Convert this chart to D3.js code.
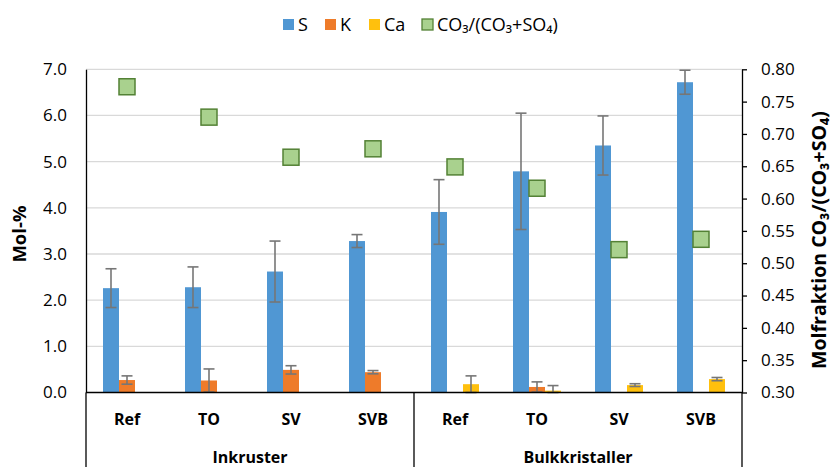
<!DOCTYPE html>
<html>
<head>
<meta charset="utf-8">
<script src="https://cdn.jsdelivr.net/npm/d3@7"></script>
<style>
  html, body { margin: 0; padding: 0; background: #fff; }
  svg { display: block; }
  text { font-family: "Open Sans", Lato, "DejaVu Sans", sans-serif; fill: #000; }
</style>
</head>
<body>
<svg id="chart" width="832" height="467"></svg>
<script>
// Sample groups and sub-categories
const groups = ["Inkruster", "Bulkkristaller"];
const subCategories = ["Ref", "TO", "SV", "SVB"];

// Mol-% values per sample (Inkruster Ref..SVB, then Bulkkristaller Ref..SVB)
const sValues  = [2.26, 2.28, 2.62, 3.28, 3.91, 4.79, 5.35, 6.72];
const sErrors  = [0.42, 0.44, 0.66, 0.14, 0.70, 1.26, 0.64, 0.26];
const kValues  = [0.27, 0.26, 0.49, 0.44, null, 0.12, null, null];
const kErrors  = [0.09, 0.25, 0.09, 0.035, null, 0.11, null, null];
const caValues = [null, null, null, null, 0.18, 0.04, 0.16, 0.29];
const caErrors = [null, null, null, null, 0.18, 0.11, 0.03, 0.035];

// Mole fraction CO3/(CO3+SO4), right axis
const ratioValues = [0.773, 0.726, 0.664, 0.677, 0.649, 0.616, 0.521, 0.537];

// Axis ticks
const leftTicks = [0, 1, 2, 3, 4, 5, 6, 7];
const rightTicks = [0.30, 0.35, 0.40, 0.45, 0.50, 0.55, 0.60, 0.65, 0.70, 0.75, 0.80];

const seriesNames = ["S", "K", "Ca"];
const seriesColors = { S: "#5097d3", K: "#ee7b2a", Ca: "#ffc00d" };
const ratioLabel = "CO\u2083/(CO\u2083+SO\u2084)";

const svg = d3.select("#chart");
const plot = { left: 86, right: 742, top: 69.3, bottom: 392.5 };

// Flat list of sample keys
const keys = [];
groups.forEach(g => subCategories.forEach(c => keys.push(g + "|" + c)));

const x0 = d3.scaleBand().domain(keys).range([plot.left, plot.right]).paddingInner(0).paddingOuter(0);
const x1 = d3.scaleBand().domain(seriesNames).range([0, x0.bandwidth()]).paddingInner(0).paddingOuter(1.0625);
const yL = d3.scaleLinear().domain([0, 7]).range([plot.bottom, plot.top]);
const yR = d3.scaleLinear().domain([0.30, 0.80]).range([plot.bottom, plot.top]);

// Gridlines
svg.append("g")
  .selectAll("line")
  .data(leftTicks.filter(t => t > 0))
  .join("line")
  .attr("x1", plot.left).attr("x2", plot.right)
  .attr("y1", d => yL(d)).attr("y2", d => yL(d))
  .attr("stroke", "#d9d9d9").attr("stroke-width", 1.3);

// Bars
const barData = [];
const seriesData = { S: [sValues, sErrors], K: [kValues, kErrors], Ca: [caValues, caErrors] };
seriesNames.forEach(s => {
  keys.forEach((k, i) => {
    const v = seriesData[s][0][i];
    if (v != null) barData.push({ key: k, series: s, value: v, err: seriesData[s][1][i] });
  });
});

svg.append("g")
  .selectAll("rect")
  .data(barData)
  .join("rect")
  .attr("x", d => x0(d.key) + x1(d.series))
  .attr("width", x1.bandwidth())
  .attr("y", d => yL(d.value))
  .attr("height", d => yL(0) - yL(d.value))
  .attr("fill", d => seriesColors[d.series]);

// Error bars
const errColor = "#767676";
const capHalf = 5.5;
const gErr = svg.append("g").attr("stroke", errColor).attr("stroke-width", 1.6);
barData.filter(d => d.err != null).forEach(d => {
  const cx = x0(d.key) + x1(d.series) + x1.bandwidth() / 2;
  const lo = Math.max(0, d.value - d.err), hi = d.value + d.err;
  gErr.append("line").attr("x1", cx).attr("x2", cx).attr("y1", yL(lo)).attr("y2", yL(hi));
  gErr.append("line").attr("x1", cx - capHalf).attr("x2", cx + capHalf).attr("y1", yL(hi)).attr("y2", yL(hi));
  gErr.append("line").attr("x1", cx - capHalf).attr("x2", cx + capHalf).attr("y1", yL(lo)).attr("y2", yL(lo));
});

// Ratio markers
const mSize = 16;
svg.append("g")
  .selectAll("rect")
  .data(ratioValues.map((v, i) => ({ key: keys[i], value: v })))
  .join("rect")
  .attr("x", d => x0(d.key) + x0.bandwidth() / 2 - mSize / 2)
  .attr("y", d => yR(d.value) - mSize / 2)
  .attr("width", mSize).attr("height", mSize)
  .attr("fill", "#a9d18e").attr("stroke", "#538135").attr("stroke-width", 1.5);

// Left axis
const axL = svg.append("g").attr("transform", `translate(${plot.left},0)`)
  .call(d3.axisLeft(yL).tickValues(leftTicks).tickFormat(d3.format(".1f")).tickSize(0).tickPadding(19));
axL.select(".domain").attr("stroke", "#000").attr("stroke-width", 1.3);
axL.selectAll("text").attr("font-size", 17).attr("font-family", "Lato, sans-serif");

// Right axis
const axR = svg.append("g").attr("transform", `translate(${plot.right},0)`)
  .call(d3.axisRight(yR).tickValues(rightTicks).tickFormat(d3.format(".2f")).tickSize(5).tickSizeOuter(0).tickPadding(14));
axR.select(".domain").attr("stroke", "#000").attr("stroke-width", 1.3);
axR.selectAll(".tick line").attr("stroke", "#000").attr("stroke-width", 1.3);
axR.selectAll("text").attr("font-size", 17).attr("font-family", "Lato, sans-serif");

// Bottom axis line and group dividers
svg.append("line")
  .attr("x1", plot.left).attr("x2", plot.right)
  .attr("y1", plot.bottom).attr("y2", plot.bottom)
  .attr("stroke", "#000").attr("stroke-width", 1.6);

const dividerXs = [x0(keys[0]), x0(keys[subCategories.length]), x0(keys[keys.length - 1]) + x0.bandwidth()];
svg.append("g")
  .selectAll("line")
  .data(dividerXs)
  .join("line")
  .attr("x1", d => d).attr("x2", d => d)
  .attr("y1", plot.bottom).attr("y2", 467)
  .attr("stroke", "#000").attr("stroke-width", 1.3);

// Category labels
svg.append("g")
  .selectAll("text")
  .data(keys)
  .join("text")
  .attr("x", d => x0(d) + x0.bandwidth() / 2)
  .attr("y", 425)
  .attr("text-anchor", "middle")
  .attr("font-size", 16).attr("font-weight", "bold")
  .text(d => d.split("|")[1]);

svg.append("g")
  .selectAll("text")
  .data(groups)
  .join("text")
  .attr("x", (g, gi) => (x0(keys[gi * 4]) + x0(keys[gi * 4 + 3]) + x0.bandwidth()) / 2)
  .attr("y", 463)
  .attr("text-anchor", "middle")
  .attr("font-size", 16).attr("font-weight", "bold")
  .text(d => d);

// Axis titles
svg.append("text")
  .attr("transform", `translate(26,234) rotate(-90)`)
  .attr("text-anchor", "middle")
  .attr("font-size", 18.5).attr("font-weight", "bold")
  .text("Mol-%");

svg.append("text")
  .attr("transform", `translate(826,240) rotate(-90)`)
  .attr("text-anchor", "middle")
  .attr("font-size", 19.5).attr("font-weight", "bold")
  .text("Molfraktion " + ratioLabel);

// Legend
const legendItems = [
  { label: "S", x: 283, fill: seriesColors.S, stroke: "none" },
  { label: "K", x: 325, fill: seriesColors.K, stroke: "none" },
  { label: "Ca", x: 369, fill: seriesColors.Ca, stroke: "none" },
  { label: ratioLabel, x: 422, fill: "#a9d18e", stroke: "#538135" }
];
const leg = svg.append("g");
legendItems.forEach(it => {
  leg.append("rect").attr("x", it.x).attr("y", 19).attr("width", 11).attr("height", 11)
    .attr("fill", it.fill).attr("stroke", it.stroke).attr("stroke-width", 1.3);
  leg.append("text").attr("x", it.x + 15).attr("y", 31)
    .attr("font-size", 18).text(it.label);
});
</script>
</body>
</html>
